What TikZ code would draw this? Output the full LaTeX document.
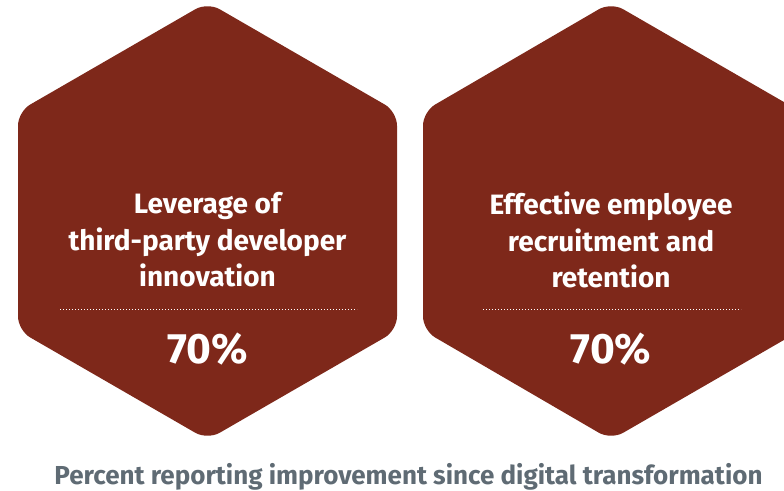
\documentclass[tikz,border=0pt]{standalone}
\usepackage{fontspec}
\setmainfont{Fira Sans}
\definecolor{hexred}{RGB}{126,40,26}
\definecolor{capgray}{RGB}{95,107,116}

\begin{document}
\begin{tikzpicture}[x=1pt,y=-1pt,
        hexagon/.style={fill=hexred,rounded corners=14pt},
        title/.style={text=white,font=\fontsize{28}{36.5}\selectfont\bfseries,align=center},
        share/.style={text=white,font=\fontsize{42.5}{46}\selectfont\bfseries,anchor=base},
        rule/.style={white,line width=1pt,dotted}]
    \useasboundingbox (0,0) rectangle (784,490);
    \clip (0,0) rectangle (784,490);

    % left hexagon
    \fill[hexagon] (207.5,2.2) -- (397,111.6) -- (397,330.4) -- (207.5,439.8)
        -- (18,330.4) -- (18,111.6) -- cycle;
    \node[title] (lt) at (207.5,240) {Leverage of\\third-party developer\\innovation};
    \coordinate (la) at (60,309);
    \coordinate (lb) at (357,309);
    \draw[rule] (la) -- (lb);
    \node[share] (lp) at (207.5,363) {70\%};

    % right hexagon
    \fill[hexagon] (611,2.2) -- (800.5,111.6) -- (800.5,330.4) -- (611,439.8)
        -- (423,330.4) -- (423,111.6) -- cycle;
    \node[title] (rt) at (611,240) {Effective employee\\recruitment and\\retention};
    \coordinate (ra) at (483,309);
    \coordinate (rb) at (741,309);
    \draw[rule] (ra) -- (rb);
    \node[share] (rp) at (611,363) {70\%};

    \node[text=capgray,font=\fontsize{26}{28}\selectfont\bfseries,anchor=base] (cap) at (408.5,484)
        {Percent reporting improvement since digital transformation};
\end{tikzpicture}
\end{document}
